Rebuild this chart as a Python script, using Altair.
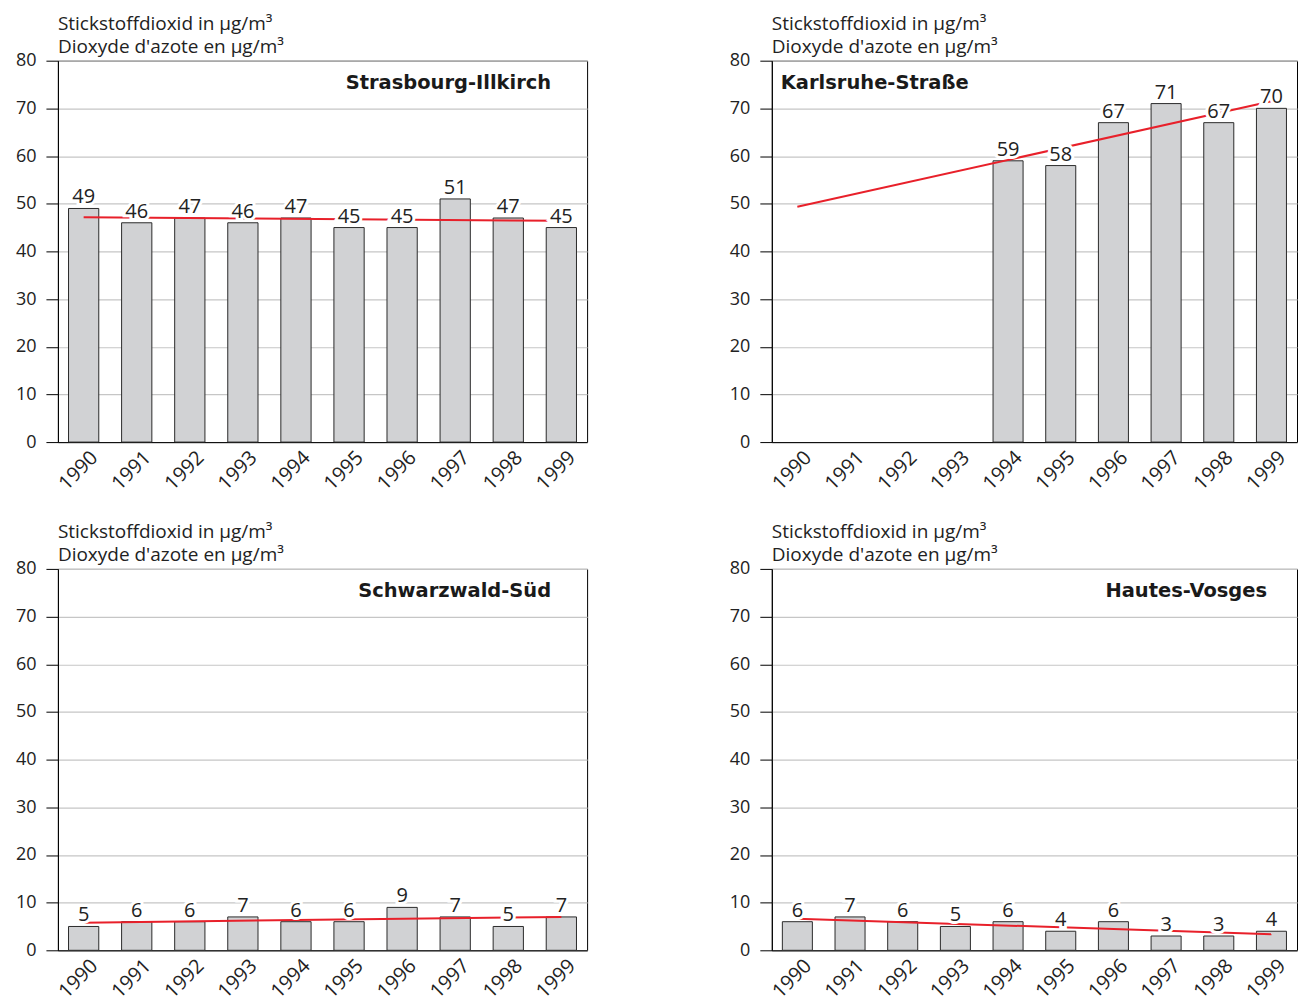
import altair as alt
import numpy as np
import pandas as pd

# Annual NO2 means (µg/m³) per station, 1990-1999
years = ["1990", "1991", "1992", "1993", "1994", "1995", "1996", "1997", "1998", "1999"]
strasbourg = [49, 46, 47, 46, 47, 45, 45, 51, 47, 45]
karlsruhe = [None, None, None, None, 59, 58, 67, 71, 67, 70]
schwarzwald = [5, 6, 6, 7, 6, 6, 9, 7, 5, 7]
vosges = [6, 7, 6, 5, 6, 4, 6, 3, 3, 4]

title_lines = ["Stickstoffdioxid in µg/m³", "Dioxyde d'azote en µg/m³"]
y_ticks = [0, 10, 20, 30, 40, 50, 60, 70, 80]

FONT = "Open Sans"
BOLD_FONT = "DejaVu Sans"
BAR_FILL = "#d1d2d4"
TREND_RED = "#e8202a"


def panel(name, values, name_align, name_x, width):
    df = pd.DataFrame({"year": years, "value": values}).dropna()
    # least-squares trend across the whole decade
    idx = np.array([years.index(y) for y in df["year"]], dtype=float)
    slope, icpt = np.polyfit(idx, df["value"].to_numpy(dtype=float), 1)
    trend = pd.DataFrame({
        "year": [years[0], years[-1]],
        "value": [icpt, icpt + slope * (len(years) - 1)],
    })

    x = alt.X(
        "year:O",
        scale=alt.Scale(domain=years, paddingInner=0.43, paddingOuter=0.2),
        axis=alt.Axis(
            title=None, labelAngle=315, labelAlign="right", labelBaseline="top",
            labelOffset=4, labelPadding=5, labelFontSize=20,
            ticks=False, grid=False,
        ),
    )
    y = alt.Y(
        "value:Q",
        scale=alt.Scale(domain=[0, 80], nice=False, zero=True),
        axis=alt.Axis(
            title=None, values=y_ticks, grid=True, tickSize=12, labelPadding=10,
        ),
    )

    bars = alt.Chart(df).mark_bar(
        fill=BAR_FILL, stroke="#2a2a2a", strokeWidth=1
    ).encode(x=x, y=y)

    line = alt.Chart(trend).mark_line(
        color=TREND_RED, strokeWidth=2
    ).encode(x=x, y=y)

    halo = alt.Chart(df).mark_text(
        font=FONT, fontSize=20, baseline="alphabetic", dy=-5,
        stroke="white", strokeWidth=6, fill="white",
    ).encode(x=x, y=y, text=alt.Text("value:Q", format="d"))

    labels = alt.Chart(df).mark_text(
        font=FONT, fontSize=20, baseline="alphabetic", dy=-5, color="#222222",
    ).encode(x=x, y=y, text=alt.Text("value:Q", format="d"))

    station = alt.Chart(pd.DataFrame({"name": [name]})).mark_text(
        font=BOLD_FONT, fontSize=19.5, fontWeight="bold", align=name_align,
        baseline="middle", color="#1a1a1a",
    ).encode(x=alt.value(name_x), y=alt.value(22), text="name:N")

    return alt.layer(bars, line, halo, labels, station).properties(
        width=width, height=382,
        title=alt.TitleParams(title_lines),
    )


top = alt.hconcat(
    panel("Strasbourg-Illkirch", strasbourg, "right", 494, 530),
    panel("Karlsruhe-Straße", karlsruhe, "left", 9, 526),
    spacing=140,
)
bottom = alt.hconcat(
    panel("Schwarzwald-Süd", schwarzwald, "right", 494, 530),
    panel("Hautes-Vosges", vosges, "right", 496, 526),
    spacing=140,
)

chart = alt.vconcat(top, bottom, spacing=29).properties(
    padding={"left": 14, "top": 14, "right": 0, "bottom": 0},
    background="white",
).configure_view(
    stroke="black", strokeWidth=1
).configure_axis(
    labelFont=FONT, labelFontSize=18, labelColor="#222222",
    domainColor="black", domainWidth=1, tickColor="black",
    gridColor="#c6c6c6", gridWidth=1.2,
).configure_title(
    anchor="start", frame="group", font=FONT, fontSize=19,
    fontWeight="normal", color="#222222", lineHeight=22.5, offset=-5,
)

chart.save("out.html", embed_options={"renderer": "svg", "actions": False})
